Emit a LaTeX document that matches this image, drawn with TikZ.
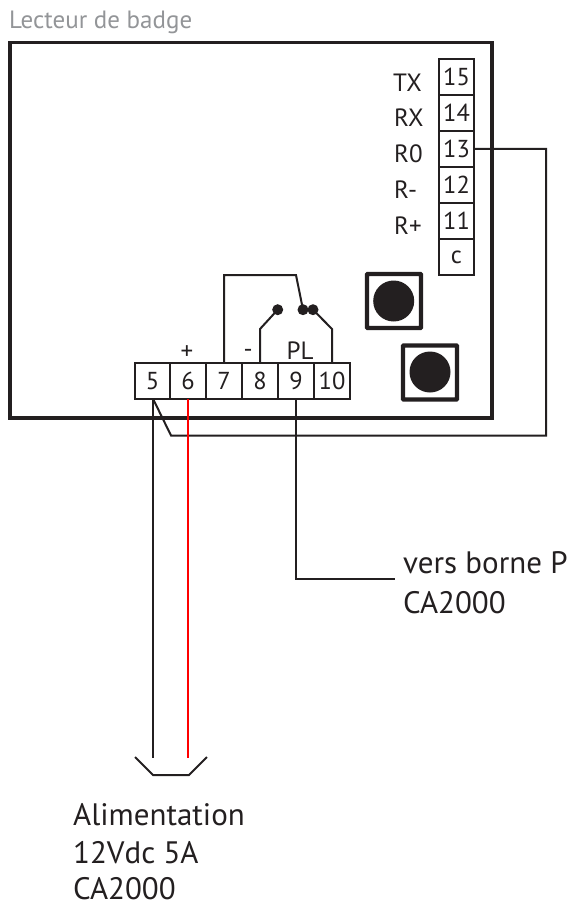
\documentclass[tikz,border=0pt]{standalone}
\usepackage{fontspec}
\setmainfont{PT Sans}
\definecolor{ink}{HTML}{231F20}
\definecolor{capt}{HTML}{939598}
\tikzset{
 x=1pt,y=-1pt,
 term/.style={draw=ink,line width=2pt,fill=white,minimum width=35.5pt,minimum height=35.5pt,inner sep=0pt,outer sep=0pt,font=\fontsize{24.5}{26}\selectfont,text=ink,anchor=center},
 lab/.style={text=ink,font=\fontsize{25}{26}\selectfont,inner sep=0pt,anchor=base west},
 big/.style={text=ink,font=\fontsize{31}{34}\selectfont,inner sep=0pt,anchor=base west},
 wire/.style={draw=ink,line width=2pt,line join=miter},
 btn/.style={draw=ink,line width=4.2pt,fill=white,minimum size=54pt,inner sep=0pt,outer sep=0pt,rounded corners=0.5pt},
 knob/.style={circle,fill=ink,minimum size=41pt,inner sep=0pt},
 dot/.style={circle,fill=ink,inner sep=0pt,minimum size=11pt},
}
\begin{document}
\begin{tikzpicture}
\useasboundingbox (0,0) rectangle (569,904);
\node[text=capt,font=\fontsize{25}{26}\selectfont,anchor=base west,inner sep=0pt] (title) at (9,28.5) {Lecteur de badge};
\node[draw=ink,line width=3.3pt,minimum width=482pt,minimum height=375.5pt,inner sep=0pt,outer sep=0pt] (main) at (251,230.25) {};
\foreach \n/\yy/\t in {t15/77/15,t14/113/14,t13/149/13,t12/185/12,t11/221/11,tc/257/c}{
  \node[term] (\n) at (456.5,\yy) {\t};
}
\node[lab] (ltx) at (393,92) {TX};
\node[lab] (lrx) at (394,127) {RX};
\node[lab] (lr0) at (394,163) {R0};
\node[lab] (lrm) at (394,198) {R-};
\node[lab] (lrp) at (394,234) {R+};
\foreach \n/\xx/\t in {b5/152.5/5,b6/188/6,b7/224/7,b8/260/8,b9/296/9,b10/332/10}{
  \node[term] (\n) at (\xx,381) {\t};
}
\node[lab,anchor=center] (lplus) at (187,353) {+};
\node[lab,anchor=center] (lminus) at (248,353) {-};
\node[lab,anchor=base] (lpl) at (300,359) {PL};
\node[btn] (s1) at (394,301) {};
\node[knob] (k1) at (393.7,301) {};
\node[btn] (s2) at (430,372.5) {};
\node[knob] (k2) at (430,372) {};
\node[dot] (d1) at (277.7,309.7) {};
\node[dot] (d2) at (303,309.7) {};
\node[dot] (d3) at (313,309.7) {};
\draw[wire] (b7.north) -- (224,275) -- (296,275) -- (d2.center);
\draw[wire] (b8.north) -- (260,329) -- (d1.center);
\draw[wire] (b10.north) -- (332,329) -- (d3.center);
\coordinate (r1) at (546,149);
\coordinate (r2) at (546,435.5);
\coordinate (r3) at (171,435.5);
\coordinate (s5) at (153,398.75);
\draw[wire] (t13.east) -- (r1) -- (r2) -- (r3) -- (s5);
\coordinate (g1) at (153,758);
\coordinate (g2) at (188,758);
\draw[wire] (s5) -- (g1);
\draw[red,line width=2pt] (b6.south) -- (g2);
\coordinate (h1) at (135,757);
\coordinate (h2) at (153,775);
\coordinate (h3) at (189,775);
\coordinate (h4) at (207,757);
\draw[wire] (h1) -- (h2) -- (h3) -- (h4);
\node[big] (pv) at (403,573) {vers borne P};
\node[big] (pca) at (403,613) {CA2000};
\coordinate (pw) at (395,579);
\draw[wire] (b9.south) |- (pw);
\node[big] (ali) at (73,825) {Alimentation};
\node[big] (v12) at (73,863) {12Vdc 5A};
\node[big] (ca) at (73,899) {CA2000};
\end{tikzpicture}
\end{document}
